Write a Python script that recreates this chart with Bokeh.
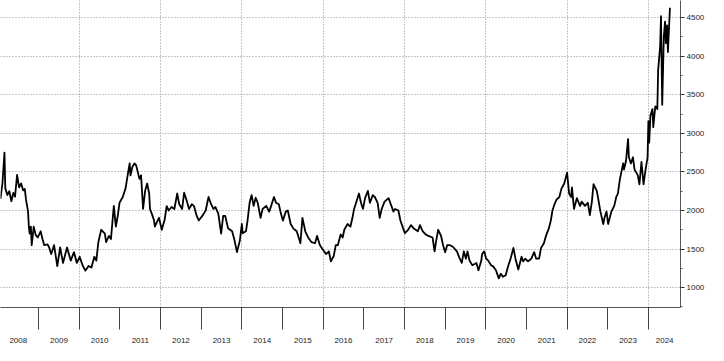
from bokeh.plotting import figure
from bokeh.models import Range1d, FixedTicker
from bokeh.embed import file_html
from bokeh.resources import INLINE

# ---- data ----
dates = [2008.06, 2008.11, 2008.16, 2008.18, 2008.23, 2008.28, 2008.33, 2008.38, 2008.42, 2008.47,
         2008.52, 2008.57, 2008.62, 2008.66, 2008.69, 2008.74, 2008.76, 2008.78, 2008.81, 2008.83,
         2008.88, 2008.93, 2008.98, 2009.05, 2009.10, 2009.14, 2009.22, 2009.26, 2009.31, 2009.38,
         2009.46, 2009.53, 2009.60, 2009.70, 2009.79, 2009.87, 2009.94, 2010.01, 2010.08, 2010.15,
         2010.23, 2010.30, 2010.37, 2010.42, 2010.47, 2010.54, 2010.63, 2010.66, 2010.73, 2010.78,
         2010.85, 2010.90, 2010.95, 2010.99, 2011.07, 2011.14, 2011.19, 2011.24, 2011.26, 2011.31,
         2011.36, 2011.40, 2011.48, 2011.52, 2011.57, 2011.62, 2011.67, 2011.72, 2011.74, 2011.79,
         2011.84, 2011.86, 2011.91, 2011.96, 2012.03, 2012.10, 2012.15, 2012.20, 2012.27, 2012.34,
         2012.41, 2012.46, 2012.53, 2012.58, 2012.65, 2012.70, 2012.77, 2012.82, 2012.89, 2012.94,
         2013.04, 2013.11, 2013.18, 2013.23, 2013.30, 2013.35, 2013.42, 2013.49, 2013.54, 2013.59,
         2013.66, 2013.76, 2013.81, 2013.88, 2013.95, 2014.00, 2014.02, 2014.10, 2014.14, 2014.19,
         2014.24, 2014.29, 2014.34, 2014.39, 2014.46, 2014.51, 2014.60, 2014.67, 2014.72, 2014.79,
         2014.84, 2014.91, 2014.96, 2015.01, 2015.08, 2015.13, 2015.20, 2015.27, 2015.35, 2015.44,
         2015.49, 2015.56, 2015.63, 2015.71, 2015.80, 2015.85, 2015.92, 2015.99, 2016.07, 2016.14,
         2016.19, 2016.26, 2016.31, 2016.36, 2016.43, 2016.48, 2016.52, 2016.60, 2016.67, 2016.72,
         2016.76, 2016.81, 2016.88, 2016.93, 2016.98, 2017.03, 2017.10, 2017.15, 2017.22, 2017.27,
         2017.34, 2017.39, 2017.44, 2017.51, 2017.61, 2017.65, 2017.73, 2017.77, 2017.85, 2017.90,
         2017.97, 2018.01, 2018.09, 2018.16, 2018.23, 2018.33, 2018.38, 2018.45, 2018.52, 2018.59,
         2018.69, 2018.74, 2018.78, 2018.83, 2018.90, 2018.95, 2019.00, 2019.05, 2019.12, 2019.19,
         2019.29, 2019.36, 2019.41, 2019.46, 2019.51, 2019.55, 2019.60, 2019.67, 2019.77, 2019.82,
         2019.89, 2019.91, 2019.96, 2020.01, 2020.06, 2020.13, 2020.18, 2020.25, 2020.32, 2020.37,
         2020.42, 2020.49, 2020.54, 2020.61, 2020.68, 2020.73, 2020.80, 2020.88, 2020.92, 2020.97,
         2021.04, 2021.12, 2021.19, 2021.24, 2021.31, 2021.36, 2021.43, 2021.48, 2021.55, 2021.60,
         2021.64, 2021.69, 2021.74, 2021.81, 2021.86, 2021.93, 2021.96, 2022.00, 2022.05, 2022.10,
         2022.12, 2022.17, 2022.24, 2022.32, 2022.36, 2022.44, 2022.51, 2022.56, 2022.61, 2022.65,
         2022.73, 2022.77, 2022.82, 2022.89, 2022.92, 2022.97, 2023.01, 2023.09, 2023.16, 2023.21,
         2023.25, 2023.30, 2023.38, 2023.40, 2023.45, 2023.50, 2023.52, 2023.57, 2023.62, 2023.66,
         2023.74, 2023.78, 2023.83, 2023.88, 2023.93, 2023.98, 2024.00, 2024.02, 2024.05, 2024.10,
         2024.12, 2024.17, 2024.22, 2024.24, 2024.29, 2024.31, 2024.34, 2024.38, 2024.41, 2024.43,
         2024.46, 2024.48, 2024.53]
prices = [2150, 2350, 2750, 2290, 2200, 2250, 2120, 2230, 2180, 2460,
          2300, 2350, 2260, 2280, 2140, 1985, 1790, 1700, 1790, 1550,
          1790, 1680, 1650, 1730, 1620, 1550, 1560, 1520, 1435, 1550,
          1280, 1520, 1320, 1520, 1350, 1460, 1320, 1400, 1290, 1220,
          1280, 1260, 1400, 1350, 1590, 1750, 1700, 1590, 1670, 1630,
          2060, 1790, 1940, 2100, 2175, 2290, 2455, 2610, 2455, 2570,
          2610, 2585, 2410, 2455, 2020, 2255, 2350, 2220, 2020, 1950,
          1870, 1790, 1850, 1905, 1750, 1880, 2055, 2000, 2045, 2020,
          2220, 2080, 2020, 2230, 2115, 2020, 2080, 2060, 1930, 1870,
          1940, 2000, 2175, 2100, 2020, 2045, 1960, 1700, 1930, 1930,
          1770, 1730, 1635, 1460, 1610, 1825, 1705, 1730, 1870, 2100,
          2200, 2060, 2165, 2100, 1905, 2020, 2060, 1985, 2060, 2175,
          2100, 2080, 1960, 1870, 1985, 2000, 1825, 1765, 1730, 1575,
          1905, 1730, 1650, 1590, 1575, 1670, 1550, 1495, 1435, 1470,
          1340, 1410, 1550, 1550, 1690, 1650, 1750, 1825, 1790, 1905,
          2020, 2100, 2220, 2100, 2020, 2160, 2255, 2100, 2200, 2175,
          2100, 1905, 2020, 2115, 2160, 2100, 1985, 2020, 2000, 1870,
          1765, 1705, 1750, 1810, 1765, 1730, 1810, 1730, 1690, 1670,
          1650, 1470, 1610, 1750, 1670, 1550, 1460, 1550, 1550, 1530,
          1470, 1375, 1320, 1470, 1375, 1470, 1350, 1290, 1320, 1225,
          1350, 1435, 1470, 1375, 1350, 1290, 1275, 1225, 1120, 1180,
          1140, 1160, 1260, 1375, 1515, 1375, 1235, 1400, 1340, 1375,
          1340, 1375, 1460, 1375, 1375, 1515, 1575, 1670, 1765, 1870,
          2000, 2080, 2140, 2175, 2280, 2350, 2410, 2490, 2220, 2175,
          2300, 2020, 2160, 2060, 2115, 2060, 2100, 1940, 2115, 2340,
          2255, 2140, 1985, 1825, 1905, 1985, 1825, 1985, 2060, 2175,
          2220, 2410, 2610, 2530, 2645, 2925, 2690, 2610, 2690, 2530,
          2455, 2340, 2630, 2340, 2530, 2690, 3160, 2880, 3230, 3315,
          3080, 3350, 3315, 3820, 4135, 4520, 3370, 4255, 4450, 4170,
          4400, 4055, 4630]

year_labels = ["2008", "2009", "2010", "2011", "2012", "2013", "2014", "2015", "2016",
               "2017", "2018", "2019", "2020", "2021", "2022", "2023", "2024"]
label_pos = [2008.5, 2009.5, 2010.5, 2011.5, 2012.5, 2013.5, 2014.5, 2015.5, 2016.5,
             2017.5, 2018.5, 2019.5, 2020.5, 2021.5, 2022.5, 2023.5, 2024.4]
year_bounds = list(range(2009, 2025))
xgrid_years = [2010, 2012, 2014, 2016, 2018, 2020, 2022, 2024]
y_ticks = [1000, 1500, 2000, 2500, 3000, 3500, 4000, 4500]
y_minor = [750, 1250, 1750, 2250, 2750, 3250, 3750, 4250]

p = figure(width=708, height=345, output_backend="svg", toolbar_location=None,
           x_range=Range1d(2008.0625, 2024.79), y_range=Range1d(742, 4723),
           y_axis_location="right", min_border_left=0, min_border_top=0,
           min_border_right=28, min_border_bottom=22)
p.outline_line_color = None
p.background_fill_color = "white"
p.border_fill_color = "white"

p.line(dates, prices, line_color="black", line_width=1.8, line_join="round")

# grids
p.xgrid.ticker = FixedTicker(ticks=xgrid_years)
p.ygrid.ticker = FixedTicker(ticks=y_ticks)
for g in (p.xgrid, p.ygrid):
    g.grid_line_color = "#8c8c8c"
    g.grid_line_dash = "1 2"
    g.grid_line_width = 1

# x axis: boxes with year labels
xa = p.xaxis[0]
xa.ticker = FixedTicker(ticks=label_pos, minor_ticks=year_bounds)
xa.major_label_overrides = {pos: lab for pos, lab in zip(label_pos, year_labels)}
xa.major_tick_out = 0
xa.major_tick_in = 0
xa.minor_tick_out = 22
xa.minor_tick_in = 0
xa.minor_tick_line_color = "#444444"
xa.axis_line_color = "#555555"
xa.major_label_text_font = "Liberation Sans"
xa.major_label_text_font_size = "8px"
xa.major_label_text_color = "#222222"
xa.major_label_standoff = 8

# y axis on the right
ya = p.yaxis[0]
ya.ticker = FixedTicker(ticks=y_ticks, minor_ticks=y_minor)
ya.major_tick_out = 4
ya.major_tick_in = 0
ya.minor_tick_out = 2
ya.minor_tick_in = 0
ya.axis_line_color = "#555555"
ya.major_tick_line_color = "#333333"
ya.minor_tick_line_color = "#555555"
ya.major_label_text_font = "Liberation Sans"
ya.major_label_text_font_size = "8px"
ya.major_label_text_color = "#222222"
ya.major_label_standoff = 2

open("out.html", "w").write(file_html(p, INLINE))
